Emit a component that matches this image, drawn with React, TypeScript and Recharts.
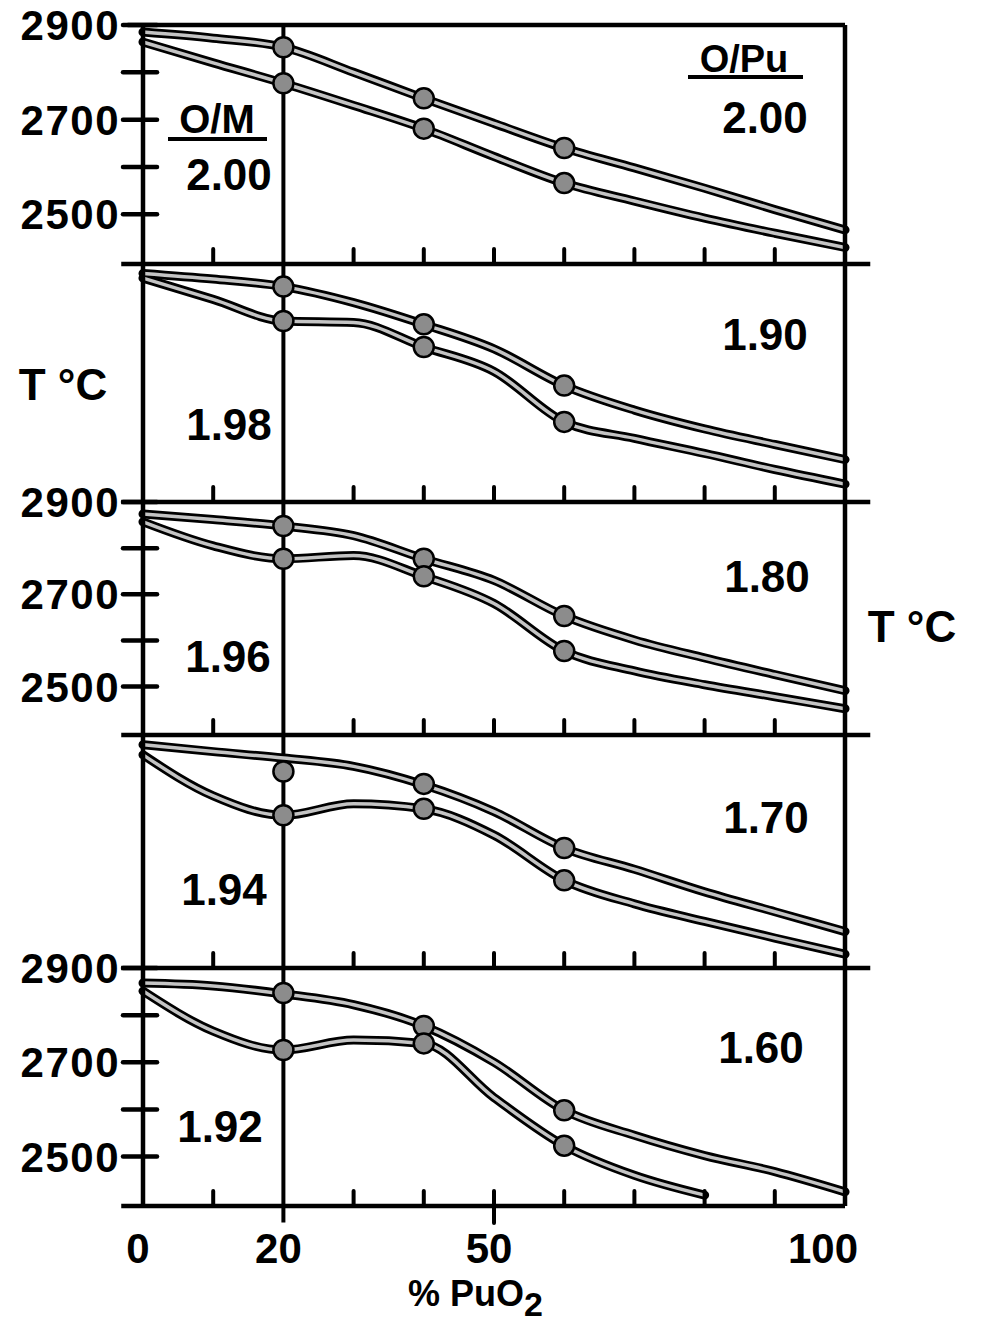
import React from "react";
import { ComposedChart, Line, XAxis, YAxis, ReferenceLine } from "recharts";

// composition axis, % PuO2
const pct = [0, 10, 20, 30, 40, 50, 60, 70, 80, 90, 100];
// measured points (circles)
const markerPct = [20, 40, 60];
const yTicks = [2500, 2600, 2700, 2800, 2900];
const yLabels = [2500, 2700, 2900];
const xLabels = [0, 20, 50, 100];

// O/M 2.00 | O/Pu 2.00
const upperA = [2885, 2872, 2853, 2800, 2745, 2692, 2640, 2598, 2555, 2510, 2467];
const lowerA = [2864, 2820, 2777, 2730, 2681, 2622, 2566, 2528, 2492, 2460, 2430];
const upperPtsA = [2853, 2745, 2640];
const lowerPtsA = [2777, 2681, 2566];

// 1.98 | 1.90
const upperB = [2880, 2868, 2852, 2818, 2772, 2720, 2642, 2590, 2550, 2517, 2485];
const lowerB = [2870, 2825, 2779, 2776, 2724, 2672, 2565, 2530, 2498, 2464, 2433];
const upperPtsB = [2852, 2772, 2642];
const lowerPtsB = [2779, 2724, 2565];

// 1.96 | 1.80
const upperC = [2874, 2862, 2848, 2827, 2777, 2730, 2653, 2601, 2562, 2526, 2491];
const lowerC = [2857, 2805, 2777, 2784, 2739, 2680, 2577, 2534, 2504, 2478, 2452];
const upperPtsC = [2848, 2777, 2653];
const lowerPtsC = [2777, 2739, 2577];

// 1.94 | 1.70
const upperD = [2879, 2864, 2850, 2832, 2792, 2734, 2655, 2609, 2560, 2517, 2474];
const lowerD = [2857, 2768, 2726, 2751, 2740, 2683, 2585, 2534, 2496, 2460, 2425];
const upperPtsD = [2821, 2794, 2655];
const lowerPtsD = [2726, 2740, 2585];

// 1.92 | 1.60
const upperE = [2868, 2862, 2845, 2822, 2777, 2700, 2598, 2545, 2502, 2468, 2425];
const lowerE = [2851, 2766, 2726, 2747, 2740, 2625, 2523, 2460, 2418, null, null];
const upperPtsE = [2847, 2777, 2598];
const lowerPtsE = [2726, 2740, 2523];

const FONT = "'Liberation Sans', Arial, sans-serif";
const W = 985;
const PLOT_L = 143;
const PLOT_R = 845;

type PanelProps = {
  top: number;
  h: number;
  side: "left" | "right";
  first?: boolean;
  last?: boolean;
  upper: (number | null)[];
  lower: (number | null)[];
  upperPts: number[];
  lowerPts: number[];
};

const marker = (p: any) => {
  if (p.cy == null || isNaN(p.cy)) return <g key={`m-${p.dataKey}-${p.index}`} />;
  return (
    <circle
      key={`m-${p.dataKey}-${p.index}`}
      cx={p.cx}
      cy={p.cy}
      r={10}
      fill="#8c8c8c"
      stroke="#000"
      strokeWidth={2.5}
    />
  );
};

function Panel({ top, h, side, first, last, upper, lower, upperPts, lowerPts }: PanelProps) {
  const mTop = 26;
  const mBottom = last ? 80 : 14;
  const bottomY = mTop + h;

  const rows = pct.map((p, i) => {
    const k = markerPct.indexOf(p);
    return {
      pct: p,
      upper: upper[i],
      lower: lower[i],
      upperPt: k >= 0 ? upperPts[k] : null,
      lowerPt: k >= 0 ? lowerPts[k] : null,
    };
  });

  const xTick = (props: any) => {
    const { x, payload } = props;
    const v = payload.value;
    const showLine = v !== 0 && v !== 20 && v !== 100;
    const below = last && v === 50 ? 17 : 0;
    return (
      <g>
        {showLine && (
          <line x1={x} x2={x} y1={bottomY + below} y2={bottomY - 15} stroke="#000" strokeWidth={4} strokeLinecap="round" />
        )}
        {last && xLabels.includes(v) && (
          <text
            x={x + (v === 100 ? -22 : -5)}
            y={bottomY + 57}
            textAnchor="middle"
            fontFamily={FONT}
            fontWeight={700}
            fontSize={42}
            fill="#000"
          >
            {v}
          </text>
        )}
      </g>
    );
  };

  const yTick = (props: any) => {
    const { y, payload } = props;
    const v = payload.value;
    const ax = side === "left" ? PLOT_L : PLOT_R;
    const out = side === "left" ? -20 : 28;
    const inn = side === "left" ? 14 : -12;
    return (
      <g>
        <line x1={ax + out} x2={ax + inn} y1={y} y2={y} stroke="#000" strokeWidth={4.5} strokeLinecap="round" />
        {yLabels.includes(v) && (
          <text
            x={side === "left" ? ax - 23 : ax + 30}
            y={y + 15}
            textAnchor={side === "left" ? "end" : "start"}
            fontFamily={FONT}
            fontWeight={700}
            fontSize={42}
            letterSpacing={1.5}
            fill="#000"
          >
            {v}
          </text>
        )}
      </g>
    );
  };

  const axisLine = { stroke: "#000", strokeWidth: 4.5 };

  return (
    <div style={{ position: "absolute", left: 0, top: top - mTop }}>
      <ComposedChart
        width={W}
        height={h + mTop + mBottom + 1}
        data={rows}
        margin={{ top: mTop, right: 0, bottom: mBottom, left: 0 }}
      >
        <XAxis
          dataKey="pct"
          type="number"
          domain={[0, 100]}
          ticks={pct}
          interval={0}
          height={1}
          axisLine={false}
          tickLine={false}
          tickSize={0}
          tickMargin={0}
          tick={xTick}
        />
        <YAxis
          yAxisId="l"
          orientation="left"
          width={PLOT_L}
          type="number"
          domain={[2395, 2900]}
          ticks={yTicks}
          interval={0}
          axisLine={axisLine}
          tickLine={false}
          tick={side === "left" ? yTick : false}
        />
        <YAxis
          yAxisId="r"
          orientation="right"
          width={W - PLOT_R}
          type="number"
          domain={[2395, 2900]}
          ticks={yTicks}
          interval={0}
          axisLine={axisLine}
          tickLine={false}
          tick={side === "right" ? yTick : false}
        />

        {first && (
          <ReferenceLine
            yAxisId="l"
            segment={[{ x: -2.2, y: 2900 }, { x: 100, y: 2900 }]}
            stroke="#000"
            strokeWidth={4.5}
            ifOverflow="visible"
          />
        )}
        <ReferenceLine
          yAxisId="l"
          segment={[{ x: -3.1, y: 2395 }, { x: last ? 100 : 103.6, y: 2395 }]}
          stroke="#000"
          strokeWidth={4.5}
          ifOverflow="visible"
        />
        <ReferenceLine
          yAxisId="l"
          segment={[{ x: 20, y: last ? 2360 : 2395 }, { x: 20, y: 2900 }]}
          stroke="#000"
          strokeWidth={4}
          ifOverflow="visible"
        />

        <Line yAxisId="l" type="monotone" dataKey="upper" stroke="#000" strokeWidth={9} strokeLinecap="round" dot={false} isAnimationActive={false} />
        <Line yAxisId="l" type="monotone" dataKey="lower" stroke="#000" strokeWidth={9} strokeLinecap="round" dot={false} isAnimationActive={false} />
        <Line yAxisId="l" type="monotone" dataKey="upper" stroke="#c4c4c4" strokeWidth={3.5} dot={false} isAnimationActive={false} />
        <Line yAxisId="l" type="monotone" dataKey="lower" stroke="#c4c4c4" strokeWidth={3.5} dot={false} isAnimationActive={false} />
        <Line yAxisId="l" dataKey="upperPt" stroke="none" dot={marker} isAnimationActive={false} />
        <Line yAxisId="l" dataKey="lowerPt" stroke="none" dot={marker} isAnimationActive={false} />
      </ComposedChart>
    </div>
  );
}

const T = (props: { x: number; y: number; children: React.ReactNode; size?: number; anchor?: string }) => (
  <text
    x={props.x}
    y={props.y}
    textAnchor={(props.anchor as any) || "middle"}
    fontFamily={FONT}
    fontWeight={700}
    fontSize={props.size || 44}
    fill="#000"
  >
    {props.children}
  </text>
);

export default function App() {
  return (
    <div style={{ position: "absolute", left: 0, top: 0, width: W, height: 1328, background: "#fff", overflow: "hidden" }}>
      <Panel top={25} h={239} side="left" first upper={upperA} lower={lowerA} upperPts={upperPtsA} lowerPts={lowerPtsA} />
      <Panel top={264} h={238} side="right" upper={upperB} lower={lowerB} upperPts={upperPtsB} lowerPts={lowerPtsB} />
      <Panel top={502} h={233} side="left" upper={upperC} lower={lowerC} upperPts={upperPtsC} lowerPts={lowerPtsC} />
      <Panel top={735} h={233} side="right" upper={upperD} lower={lowerD} upperPts={upperPtsD} lowerPts={lowerPtsD} />
      <Panel top={968} h={238} side="left" last upper={upperE} lower={lowerE} upperPts={upperPtsE} lowerPts={lowerPtsE} />

      <svg width={W} height={1328} style={{ position: "absolute", left: 0, top: 0, pointerEvents: "none" }}>
        <T x={217} y={133} size={40}>O/M</T>
        <line x1={168} x2={267} y1={139} y2={139} stroke="#000" strokeWidth={4} />
        <T x={229} y={190}>2.00</T>

        <T x={744} y={72} size={38}>O/Pu</T>
        <line x1={688} x2={803} y1={77} y2={77} stroke="#000" strokeWidth={4} />
        <T x={765} y={133}>2.00</T>

        <T x={63} y={400}>T °C</T>
        <T x={229} y={440}>1.98</T>
        <T x={765} y={350}>1.90</T>

        <T x={228} y={672}>1.96</T>
        <T x={767} y={592}>1.80</T>
        <T x={912} y={642}>T °C</T>

        <T x={224} y={905}>1.94</T>
        <T x={766} y={833}>1.70</T>

        <T x={220} y={1142}>1.92</T>
        <T x={761} y={1063}>1.60</T>

        <text x={408} y={1306} fontFamily={FONT} fontWeight={700} fontSize={36} fill="#000">
          % PuO
          <tspan fontSize={34} dy={10}>2</tspan>
        </text>
      </svg>
    </div>
  );
}
